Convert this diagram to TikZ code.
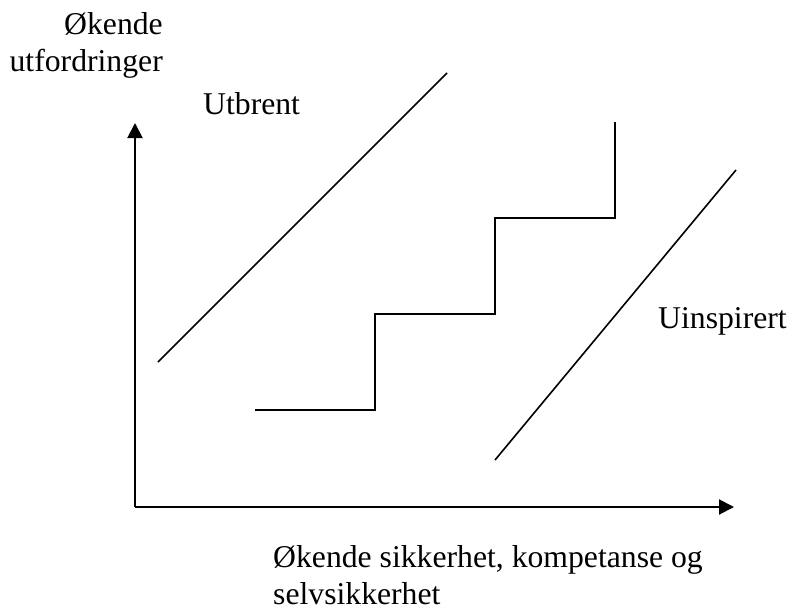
\documentclass[tikz,border=0pt]{standalone}
\usepackage{fontspec}
\setmainfont{Liberation Serif}
\usetikzlibrary{arrows.meta}
\begin{document}
\begin{tikzpicture}[x=1pt,y=-1pt,
  lbl/.style={inner sep=0pt,font=\fontsize{31.7}{37}\selectfont},
  axis/.style={line width=2pt,-{Triangle[length=15pt,width=15pt]}},
  diag/.style={line width=1.6pt},
  stair/.style={line width=2pt,line join=miter}]
\useasboundingbox (0,0) rectangle (789,607);
% axes
\coordinate (o) at (135,507);
\coordinate (ytip) at (135,123);
\coordinate (xtip) at (734,507);
\draw[axis] (o) -- (ytip);
\draw[axis] (o) -- (xtip);
% labels
\node[lbl,anchor=base east] (yl1) at (163,35) {Økende};
\node[lbl,anchor=base east] (yl2) at (163,72) {utfordringer};
\node[lbl,anchor=base west] (ut) at (203,114) {Utbrent};
\node[lbl,anchor=base west] (ui) at (658,328) {Uinspirert};
\node[lbl,anchor=base west] (xl1) at (273,567) {Økende sikkerhet, kompetanse og};
\node[lbl,anchor=base west] (xl2) at (273,604) {selvsikkerhet};
% left diagonal
\coordinate (a1) at (158,362);
\coordinate (a2) at (447,73);
\draw[diag] (a1) -- (a2);
% right diagonal
\coordinate (b1) at (495,460);
\coordinate (b2) at (736,170);
\draw[diag] (b1) -- (b2);
% staircase
\coordinate (s0) at (255,410);
\coordinate (s1) at (375,410);
\coordinate (s2) at (375,314);
\coordinate (s3) at (495,314);
\coordinate (s4) at (495,218);
\coordinate (s5) at (615,218);
\coordinate (s6) at (615,122);
\draw[stair] (s0) -- (s1) -- (s2) -- (s3) -- (s4) -- (s5) -- (s6);
\end{tikzpicture}
\end{document}
